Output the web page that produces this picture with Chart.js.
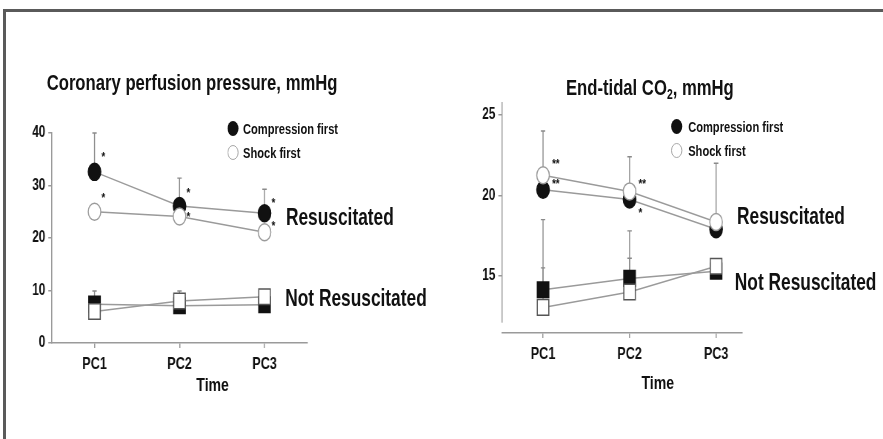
<!DOCTYPE html>
<html>
<head>
<meta charset="utf-8">
<script src="https://cdn.jsdelivr.net/npm/chart.js@4.4.1/dist/chart.umd.min.js"></script>
<style>
  html, body { margin: 0; padding: 0; background: #fff; }
  body { width: 883px; height: 439px; overflow: hidden; position: relative; }
  #frame { position: absolute; left: 3px; top: 9px; width: 880px; height: 430px;
           border-top: 3px solid #5a5a5a; border-left: 3px solid #5a5a5a; box-sizing: border-box; }
  /* everything below is laid out wide and squeezed horizontally */
  #stage { position: absolute; left: 0; top: 0; height: 439px; transform-origin: 0 0; }
  #stage canvas { position: absolute; left: 0; top: 0; }
  .txt { position: absolute; font-family: "Liberation Sans", Arial, sans-serif; font-weight: bold;
         color: #111; white-space: nowrap; }
  .title { font-size: 22.5px; line-height: 22px; }
  .lab { font-size: 23.4px; line-height: 23px; }
  .leg { font-size: 15px; line-height: 15px; }
  .time { font-size: 19px; line-height: 19px; width: 100px; text-align: center; }
  .dot { position: absolute; width: 15px; height: 15px; border-radius: 50%; box-sizing: border-box; }
  .dot.fill { background: #111; }
  .dot.open { background: #fff; border: 1.5px solid #9a9a9a; }
</style>
</head>
<body>
<div id="frame"></div>
<div id="stage">
  <canvas id="cppChart"></canvas>
  <canvas id="etco2Chart"></canvas>

  <div class="txt title" style="left:63px;top:72px">Coronary perfusion pressure, mmHg</div>
  <div class="txt title" style="left:764px;top:77px">End-tidal CO<sub style="font-size:14px;vertical-align:-4px">2</sub>, mmHg</div>

  <div class="dot fill" style="left:307px;top:121px"></div>
  <div class="txt leg" style="left:328px;top:121px">Compression first</div>
  <div class="dot open" style="left:307px;top:145px"></div>
  <div class="txt leg" style="left:328px;top:145px">Shock first</div>

  <div class="dot fill" style="left:906px;top:119px"></div>
  <div class="txt leg" style="left:929px;top:119px">Compression first</div>
  <div class="dot open" style="left:906px;top:143px"></div>
  <div class="txt leg" style="left:929px;top:143px">Shock first</div>

  <div class="txt lab" style="left:386px;top:206px">Resuscitated</div>
  <div class="txt lab" style="left:385px;top:287px">Not Resuscitated</div>
  <div class="txt lab" style="left:995px;top:205px">Resuscitated</div>
  <div class="txt lab" style="left:992px;top:271px">Not Resuscitated</div>

  <div class="txt time" style="left:237px;top:375px">Time</div>
  <div class="txt time" style="left:838px;top:373px">Time</div>
</div>

<script>
const categories = ['PC1', 'PC2', 'PC3'];

// coronary perfusion pressure, mmHg
const cppCompResus = [32.6, 26.1, 24.7];
const cppShockResus = [25.0, 24.1, 21.1];
const cppCompNot = [7.4, 7.1, 7.3];
const cppShockNot = [6.0, 8.0, 8.8];
const cppCompResusErr = [40, 31.4, 29.3];
const cppCompNotErr = [9.9, null, null];
const cppShockNotErr = [null, 9.9, null];
const cppStars = [[1, 36, '*'], [1, 28.2, '*'], [2, 29, '*'], [2, 24.4, '*'], [3, 27.2, '*'], [3, 22.8, '*']];
const cppTicks = [0, 10, 20, 30, 40];

// end-tidal CO2, mmHg
const etco2CompResus = [20.35, 19.75, 17.9];
const etco2ShockResus = [21.25, 20.25, 18.35];
const etco2CompNot = [14.15, 14.85, 15.3];
const etco2ShockNot = [13.05, 14.0, 15.6];
const etco2ShockResusErr = [24.0, 22.4, 22.0];
const etco2CompNotErr = [18.5, 17.8, null];
const etco2ShockNotErr = [15.5, 16.1, null];
const etco2Stars = [[1, 22.1, '**'], [1, 20.9, '**'], [2, 20.9, '**'], [2, 19.1, '*']];
const etco2Ticks = [15, 20, 25];

const K = 1.35;                 // horizontal squeeze factor
const W = Math.round(883 * K);
const H = 439;
document.getElementById('stage').style.width = W + 'px';
document.getElementById('stage').style.transform = 'scaleX(' + (883 / W) + ')';

const FONT = '"Liberation Sans", Arial, sans-serif';
const LINE = '#9a9a9a';

// error bars under the markers, significance stars on top
const extras = {
  id: 'extras',
  beforeDatasetsDraw(chart, args, opts) {
    const { ctx, chartArea, scales: { x, y } } = chart;
    ctx.save();
    ctx.strokeStyle = '#8a8a8a';
    ctx.lineWidth = 1.4;
    chart.data.datasets.forEach(ds => {
      (ds.errUp || []).forEach((top, i) => {
        if (top == null) return;
        const px = x.getPixelForValue(i + 1);
        const y0 = y.getPixelForValue(ds.data[i].y);
        const y1 = y.getPixelForValue(top);
        ctx.beginPath();
        ctx.moveTo(px, y0);
        ctx.lineTo(px, y1);
        ctx.moveTo(px - 3, y1);
        ctx.lineTo(px + 3, y1);
        ctx.stroke();
      });
    });
    if (opts.axisEnd != null) {
      ctx.strokeStyle = LINE;
      ctx.lineWidth = 1.5;
      ctx.beginPath();
      ctx.moveTo(chartArea.left, chartArea.top);
      ctx.lineTo(chartArea.left, y.getPixelForValue(opts.axisEnd));
      ctx.stroke();
    }
    ctx.restore();
  },
  afterDatasetsDraw(chart, args, opts) {
    const { ctx, scales: { x, y } } = chart;
    ctx.save();
    ctx.fillStyle = '#111';
    ctx.font = 'bold 13px ' + FONT;
    ctx.textBaseline = 'middle';
    (opts.stars || []).forEach(([c, v, t]) => {
      ctx.fillText(t, x.getPixelForValue(c) + opts.starDx, y.getPixelForValue(v) + 3);
    });
    ctx.restore();
  }
};

function pts(arr) {
  return arr.map((v, i) => ({ x: i + 1, y: v }));
}

function series(values, err, filled, square) {
  return {
    data: pts(values),
    errUp: err,
    borderColor: LINE,
    borderWidth: 1.5,
    pointStyle: square ? 'rect' : 'circle',
    pointRadius: square ? 11 : 8.5,
    pointBackgroundColor: filled ? '#111' : '#fff',
    pointBorderColor: filled ? '#111' : (square ? '#555' : '#9a9a9a'),
    pointBorderWidth: 1.5
  };
}

function makeChart(id, cfg) {
  const el = document.getElementById(id);
  el.width = W;
  el.height = H;
  return new Chart(el.getContext('2d'), {
    type: 'line',
    data: { datasets: cfg.datasets },
    plugins: [extras],
    options: {
      responsive: false,
      animation: false,
      events: [],
      layout: { padding: cfg.padding },
      plugins: {
        legend: { display: false },
        tooltip: { enabled: false },
        extras: { stars: cfg.stars, starDx: cfg.starDx, axisEnd: cfg.axisEnd }
      },
      scales: {
        x: {
          type: 'linear',
          min: cfg.xMin,
          max: cfg.xMax,
          afterBuildTicks: s => { s.ticks = categories.map((c, i) => ({ value: i + 1 })); },
          afterFit: s => { s.height = 40; },
          ticks: {
            callback: v => categories[v - 1],
            color: '#111',
            padding: 6,
            maxRotation: 0,
            font: { family: FONT, size: 17, weight: 'bold' }
          },
          grid: { drawOnChartArea: false, tickLength: 5, color: LINE, lineWidth: 1.5 },
          border: { color: LINE, width: 1.5 }
        },
        y: {
          min: cfg.yMin,
          max: cfg.yMax,
          afterBuildTicks: s => { s.ticks = cfg.yTicks.map(v => ({ value: v })); },
          afterFit: s => { s.width = cfg.yWidth; },
          ticks: {
            color: '#111',
            padding: 4,
            font: { family: FONT, size: 16, weight: 'bold' }
          },
          grid: { drawOnChartArea: false, tickLength: 5, color: LINE, lineWidth: 1.5 },
          border: { display: cfg.axisEnd == null, color: LINE, width: 1.5 }
        }
      }
    }
  });
}

// shock-first series go first so they sit on top of compression-first markers
makeChart('cppChart', {
  datasets: [
    series(cppShockResus, null, false, false),
    series(cppShockNot, cppShockNotErr, false, true),
    series(cppCompResus, cppCompResusErr, true, false),
    series(cppCompNot, cppCompNotErr, true, true)
  ],
  padding: { left: 0, top: 133, right: W - 307 * K, bottom: H - 343 - 40 },
  yWidth: 52 * K,
  xMin: 0.5, xMax: 3.5,
  yMin: 0, yMax: 40,
  yTicks: cppTicks,
  stars: cppStars,
  starDx: 7 * K
});

makeChart('etco2Chart', {
  datasets: [
    series(etco2ShockResus, etco2ShockResusErr, false, false),
    series(etco2ShockNot, etco2ShockNotErr, false, true),
    series(etco2CompResus, null, true, false),
    series(etco2CompNot, etco2CompNotErr, true, true)
  ],
  padding: { left: 502 * K - 60, top: 102, right: W - 742 * K, bottom: H - 333 - 40 },
  yWidth: 60,
  xMin: 0.526, xMax: 3.30,
  yMin: 11.46, yMax: 25.8,
  yTicks: etco2Ticks,
  stars: etco2Stars,
  starDx: 9 * K,
  axisEnd: 12.1
});
</script>
</body>
</html>
